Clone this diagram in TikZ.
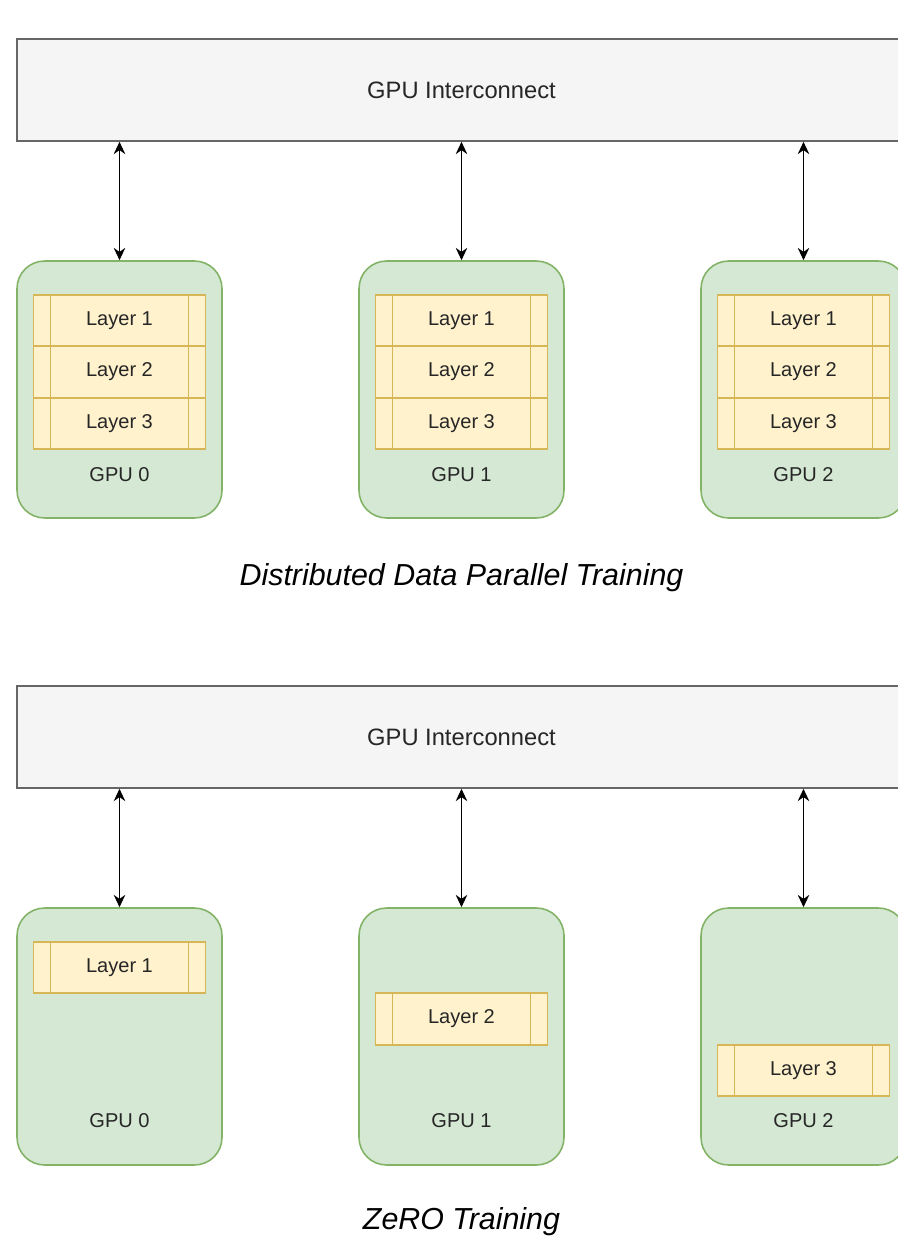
\documentclass[tikz,border=0pt]{standalone}
\usepackage{fontspec}
\setmainfont{Liberation Sans}
\usetikzlibrary{arrows.meta,positioning}
\definecolor{busfill}{HTML}{F5F5F5}
\definecolor{busline}{HTML}{666666}
\definecolor{gpufill}{HTML}{D5E8D4}
\definecolor{gpuline}{HTML}{82B366}
\definecolor{layerfill}{HTML}{FFF2CC}
\definecolor{layerline}{HTML}{D6B656}
\definecolor{labelgray}{HTML}{262626}

\begin{document}
\begin{tikzpicture}[
    x=0.02cm, y=-0.02cm,
    font=\fontsize{11.4}{13}\selectfont,
    >={Stealth[length=7pt,width=6.5pt]},
    line width=0.9pt,
    bus/.style={draw=busline, fill=busfill, minimum width=17.78cm,
      minimum height=2.04cm, inner sep=0pt, text=labelgray,
      font=\fontsize{13.5}{16}\selectfont},
    gpu/.style={draw=gpuline, fill=gpufill, rounded corners=0.55cm,
      minimum width=4.1cm, minimum height=5.14cm, inner sep=0pt},
    layerbox/.style={draw=layerline, fill=layerfill, minimum width=3.44cm,
      minimum height=1.03cm, inner sep=0pt, outer sep=0pt, text=labelgray,
      path picture={
        \draw[layerline]
          ([xshift=0.34cm]path picture bounding box.north west) --
          ([xshift=0.34cm]path picture bounding box.south west)
          ([xshift=-0.34cm]path picture bounding box.north east) --
          ([xshift=-0.34cm]path picture bounding box.south east);
      }},
    gpulabel/.style={text=labelgray},
    link/.style={<->, line width=1.1pt, xshift=1.5*0.02cm},
    caption/.style={font=\fontsize{17.3}{20}\selectfont\itshape}
  ]
  \clip (0,0) rectangle (898,1244);

  % interconnects
  \node[bus] (busA) at (461.5,90) {GPU Interconnect};
  \node[bus] (busB) at (461.5,737) {GPU Interconnect};

  % data parallel: every GPU keeps all layers
  \foreach \i/\x in {0/119.5, 1/461.5, 2/803.5}{
    \node[gpu] (gpuA\i) at (\x,389.5) {};
    \node[layerbox] (layA\i1) at (\x,320.5) {Layer 1};
    \node[layerbox, below=0pt of layA\i1] (layA\i2) {Layer 2};
    \node[layerbox, below=0pt of layA\i2] (layA\i3) {Layer 3};
    \node[gpulabel] (nameA\i) at (\x,475) {GPU \i};
    \draw[link] (gpuA\i.north |- busA.south) -- (gpuA\i.north);
  }
  \node[caption] (capA) at (461.5,578) {Distributed Data Parallel Training};

  % zero: one layer per GPU
  \foreach \i/\n/\x/\y in {0/1/119.5/967.5, 1/2/461.5/1019, 2/3/803.5/1070.5}{
    \node[gpu] (gpuB\i) at (\x,1036.5) {};
    \node[layerbox] (layB\i) at (\x,\y) {Layer \n};
    \node[gpulabel] (nameB\i) at (\x,1121) {GPU \i};
    \draw[link] (gpuB\i.north |- busB.south) -- (gpuB\i.north);
  }
  \node[caption] (capB) at (461.5,1222) {ZeRO Training};
\end{tikzpicture}
\end{document}
